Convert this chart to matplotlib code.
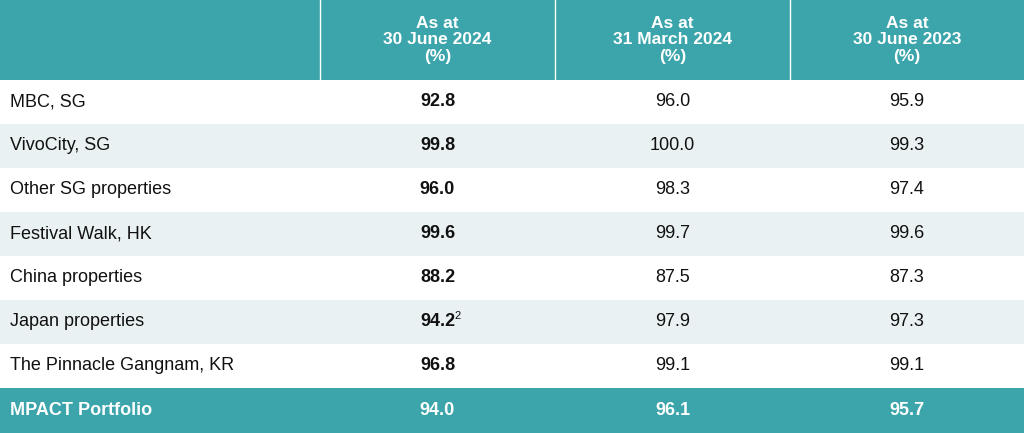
import matplotlib
matplotlib.use("Agg")
import matplotlib.pyplot as plt
from matplotlib.patches import Rectangle

plt.rcParams['font.family'] = ['Liberation Sans', 'DejaVu Sans']

headers = ["As at\n30 June 2024\n(%)", "As at\n31 March 2024\n(%)", "As at\n30 June 2023\n(%)"]
properties = ["MBC, SG", "VivoCity, SG", "Other SG properties", "Festival Walk, HK",
              "China properties", "Japan properties", "The Pinnacle Gangnam, KR"]
jun2024 = [92.8, 99.8, 96.0, 99.6, 88.2, 94.2, 96.8]
mar2024 = [96.0, 100.0, 98.3, 99.7, 87.5, 97.9, 99.1]
jun2023 = [95.9, 99.3, 97.4, 99.6, 87.3, 97.3, 99.1]
portfolio_label = "MPACT Portfolio"
portfolio = [94.0, 96.1, 95.7]
footnotes = {5: "2"}

TEAL = "#3ba5ab"
LIGHT = "#e9f1f3"
W, H = 1024, 433
fig = plt.figure(figsize=(W/100, H/100), dpi=100)
ax = fig.add_axes([0, 0, 1, 1])
ax.set_xlim(0, W); ax.set_ylim(H, 0); ax.axis('off')

cols = [0, 320, 555, 790, 1024]
hh = 80
rh = 44
# header
ax.add_patch(Rectangle((0, 0), W, hh, color=TEAL, lw=0))
for c in cols[1:-1]:
    ax.plot([c, c], [0, hh], color='white', lw=1)
for i, h in enumerate(headers):
    ax.text((cols[i+1]+cols[i+2])/2, hh/2, h, ha='center', va='center', color='white',
            fontsize=12.5, fontweight='bold', linespacing=1.15)
# body
for r, name in enumerate(properties):
    y0 = hh + r*rh
    if r % 2 == 1:
        ax.add_patch(Rectangle((0, y0), W, rh, color=LIGHT, lw=0))
    yc = y0 + rh/2
    ax.text(10, yc, name, va='center', ha='left', fontsize=13, color='#111111')
    vals = [jun2024[r], mar2024[r], jun2023[r]]
    for i, v in enumerate(vals):
        xc = (cols[i+1]+cols[i+2])/2
        t = ax.text(xc, yc, f"{v:.1f}", va='center', ha='center', fontsize=13,
                    color='#111111', fontweight='bold' if i == 0 else 'normal')
        if i == 0 and r in footnotes:
            ax.text(xc+17, yc-6, footnotes[r], va='center', ha='left', fontsize=8, color='#111111')
y0 = hh + len(properties)*rh
ax.add_patch(Rectangle((0, y0), W, H-y0, color=TEAL, lw=0))
yc = (y0+H)/2
ax.text(10, yc, portfolio_label, va='center', ha='left', fontsize=13, color='white', fontweight='bold')
for i, v in enumerate(portfolio):
    ax.text((cols[i+1]+cols[i+2])/2, yc, f"{v:.1f}", va='center', ha='center',
            fontsize=13, color='white', fontweight='bold')
fig.savefig("out.png", dpi=100)
